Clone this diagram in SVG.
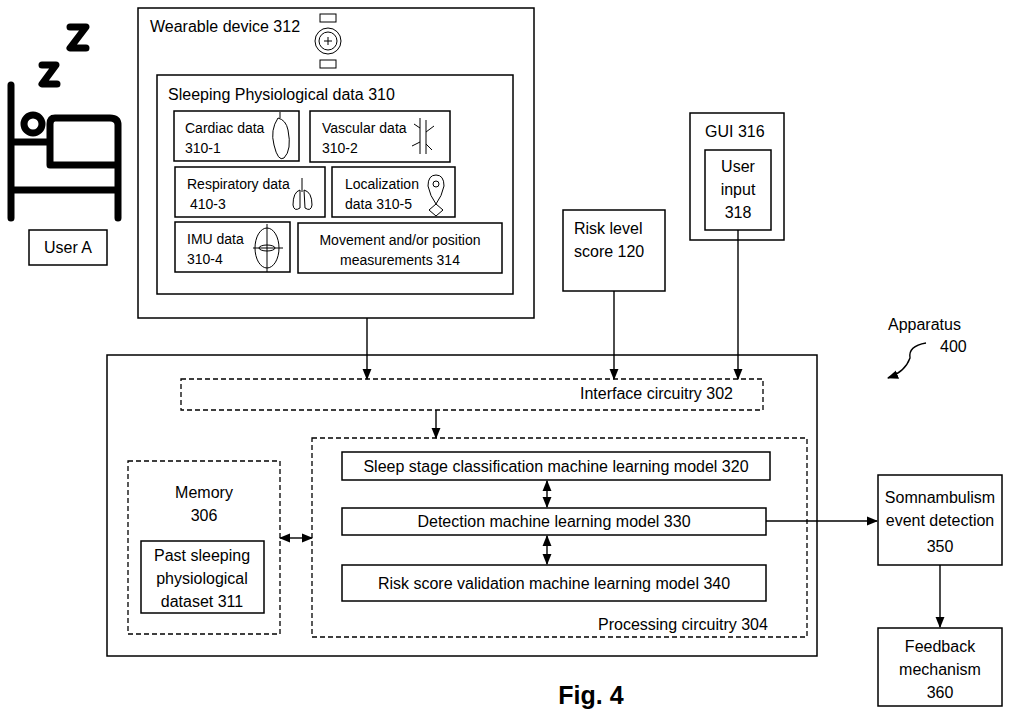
<svg xmlns="http://www.w3.org/2000/svg" width="1024" height="718" viewBox="0 0 1024 718">
<defs>
<marker id="ah" viewBox="0 0 10 10" refX="9" refY="5" markerWidth="8" markerHeight="8" orient="auto-start-reverse"><path d="M0,1 L10,5 L0,9 z" fill="#000"/></marker>
<style>
.b{fill:#fff;stroke:#000;stroke-width:1.5}
.d{fill:none;stroke:#000;stroke-width:1.3;stroke-dasharray:5,3}
text{font-family:"Liberation Sans",Arial,sans-serif;font-size:16px;fill:#000}
.c{text-anchor:middle}
.s{font-size:14px}
.ic{fill:none;stroke:#000;stroke-width:1}
.cn{fill:none;stroke:#000;stroke-width:1.4}
</style>
</defs>
<rect width="1024" height="718" fill="#fff"/>
<g id="userA">
<g fill="none" stroke="#000" stroke-width="7" stroke-linecap="round" stroke-linejoin="round">
<path d="M11,85 V218 M11,190 H118 M118,218 V125 Q118,118 110,118 H55 Q50,118 50,124 V165 H118 M11,142 H48"/>
<circle cx="33" cy="124" r="9"/>
<path d="M42,65 H56 L42,84 H57 M70,27 H86 L70,48 H86"/>
</g>
<rect class="b" x="29" y="230" width="78" height="35"/>
<text class="c" x="68" y="253">User A</text>
</g>
<g id="wearable">
<rect class="b" x="138" y="8" width="396" height="310"/>
<text x="150" y="32">Wearable device 312</text>
<g class="ic"><rect x="320" y="14" width="16" height="8"/><rect x="320" y="60" width="16" height="8"/><circle cx="328" cy="41" r="13"/><circle cx="328" cy="41" r="9"/><path d="M328,37 V45 M324,41 H332"/></g>
</g>
<g id="physdata">
<rect class="b" x="157" y="75" width="356" height="219"/>
<text x="168" y="100">Sleeping Physiological data 310</text>
<rect class="b" x="174" y="111" width="125" height="50"/>
<text class="s" x="185" y="133">Cardiac data</text><text class="s" x="185" y="153">310-1</text>
<path class="ic" d="M278,118 Q270,130 274,145 Q278,162 284,158 Q292,150 288,130 Q286,120 278,118 M280,118 V112"/>
<rect class="b" x="310" y="111" width="140" height="51"/>
<text class="s" x="322" y="133">Vascular data</text><text class="s" x="322" y="153">310-2</text>
<path class="ic" d="M420,118 V154 M426,120 V154 M420,128 L414,124 M426,132 L434,126 M420,142 L412,146 M426,144 L432,150"/>
<rect class="b" x="175" y="167" width="150" height="50"/>
<text class="s" x="187" y="189">Respiratory data</text><text class="s" x="190" y="209">410-3</text>
<path class="ic" d="M302,178 V192 M300,190 Q293,192 293,205 Q294,212 300,208 Z M304,190 Q312,192 312,205 Q311,212 305,208 Z"/>
<rect class="b" x="332" y="167" width="123" height="50"/>
<text class="s" x="345" y="189">Localization</text><text class="s" x="345" y="209">data 310-5</text>
<path class="ic" d="M436,175 Q428,175 428,186 Q430,196 436,204 Q442,196 444,186 Q444,175 436,175 Z M436,204 L429,210 L436,216 L443,210 Z"/>
<circle class="ic" cx="436" cy="184" r="3"/>
<rect class="b" x="175" y="222" width="115" height="50"/>
<text class="s" x="187" y="244">IMU data</text><text class="s" x="187" y="264">310-4</text>
<g class="ic"><ellipse cx="267" cy="248" rx="12" ry="20"/><path d="M267,224 V272 M253,248 H283"/><ellipse cx="267" cy="248" rx="8" ry="3"/></g>
<rect class="b" x="298" y="223" width="204" height="50"/>
<text class="s c" x="400" y="245">Movement and/or position</text><text class="s c" x="400" y="265">measurements 314</text>
</g>
<g id="gui">
<rect class="b" x="690" y="113" width="94" height="127"/>
<text x="705" y="137">GUI 316</text>
<rect class="b" x="705" y="150" width="66" height="80"/>
<text class="c" x="738" y="172">User</text><text class="c" x="738" y="195">input</text><text class="c" x="738" y="218">318</text>
</g>
<g id="risk">
<rect class="b" x="563" y="210" width="102" height="81"/>
<text x="574" y="234">Risk level</text><text x="574" y="257">score 120</text>
</g>
<g id="apparatus">
<rect class="b" x="107" y="355" width="710" height="301"/>
<text x="888" y="330">Apparatus</text><text x="940" y="352">400</text>
</g>
<g id="interface"><rect class="d" x="181" y="379" width="582" height="31"/><text x="580" y="399">Interface circuitry 302</text></g>
<g id="processing"><rect class="d" x="312" y="438" width="495" height="199"/><text x="598" y="630">Processing circuitry 304</text></g>
<g id="m320"><rect class="b" x="342" y="452" width="428" height="28"/><text class="c" x="556" y="472">Sleep stage classification machine learning model 320</text></g>
<g id="m330"><rect class="b" x="342" y="508" width="424" height="27"/><text class="c" x="554" y="527">Detection machine learning model 330</text></g>
<g id="m340"><rect class="b" x="342" y="565" width="424" height="36"/><text class="c" x="554" y="589">Risk score validation machine learning model 340</text></g>
<g id="memory"><rect class="d" x="128" y="461" width="152" height="173"/><text class="c" x="204" y="498">Memory</text><text class="c" x="204" y="521">306</text>
<rect class="b" x="141" y="541" width="123" height="72"/><text class="c" x="202" y="561">Past sleeping</text><text class="c" x="202" y="584">physiological</text><text class="c" x="202" y="607">dataset 311</text></g>
<g id="somn"><rect class="b" x="878" y="475" width="124" height="90"/><text class="c" x="940" y="503">Somnambulism</text><text class="c" x="940" y="526">event detection</text><text class="c" x="940" y="552">350</text></g>
<g id="feedback"><rect class="b" x="878" y="628" width="124" height="78"/><text class="c" x="940" y="652">Feedback</text><text class="c" x="940" y="675">mechanism</text><text class="c" x="940" y="698">360</text></g>
<text class="c" x="591" y="704" style="font-size:25px;font-weight:bold">Fig. 4</text>
<g id="connectors">
<path class="cn" marker-end="url(#ah)" d="M367,318 V379"/>
<path class="cn" marker-end="url(#ah)" d="M614,291 V379"/>
<path class="cn" marker-end="url(#ah)" d="M738,230 V379"/>
<path class="cn" marker-end="url(#ah)" d="M436,410 V438"/>
<path class="cn" marker-start="url(#ah)" marker-end="url(#ah)" d="M547,481 V507"/>
<path class="cn" marker-start="url(#ah)" marker-end="url(#ah)" d="M547,536 V564"/>
<path class="cn" marker-start="url(#ah)" marker-end="url(#ah)" d="M280,538 H312"/>
<path class="cn" marker-end="url(#ah)" d="M766,521 H877"/>
<path class="cn" marker-end="url(#ah)" d="M940,565 V627"/>
<path class="cn" marker-end="url(#ah)" d="M926,343 Q908,346 910,358 Q905,372 888,378"/>
</g>
</svg>
